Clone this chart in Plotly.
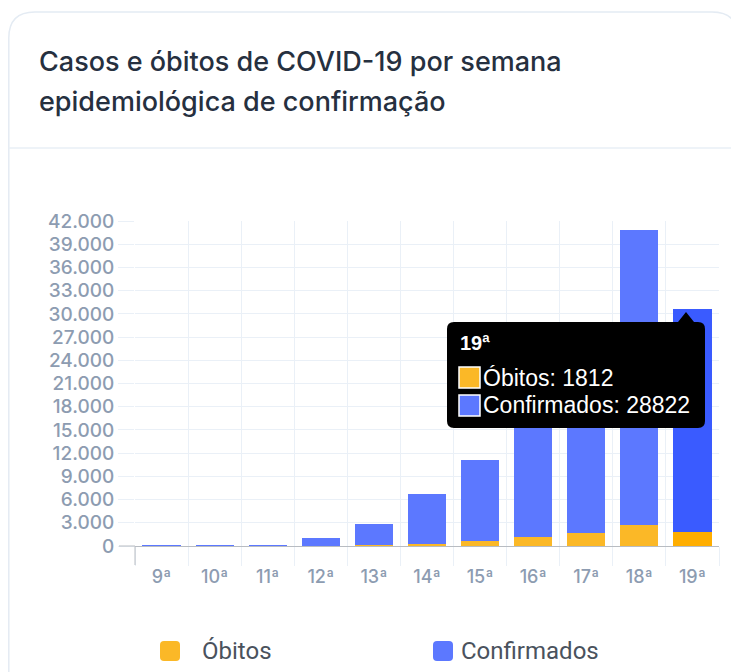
import plotly.graph_objects as go

weeks = ["9ª", "10ª", "11ª", "12ª", "13ª", "14ª", "15ª", "16ª", "17ª", "18ª", "19ª"]
obitos = [0, 0, 0, 18, 96, 296, 692, 1223, 1669, 2734, 1812]
confirmados = [2, 11, 102, 1007, 2776, 6374, 10449, 15872, 21910, 38050, 28822]

OB_C = "#fbb827"
CF_C = "#5c78ff"
OB_HI = "#ffae00"
CF_HI = "#3a5bff"
GRID = "#eaf0f7"
TICK = "#8d9cb1"

# page body has an 8px margin; work in page pixel coordinates
OFF = 8
W, H = 739 - OFF, 672 - OFF
L, R, T, B = 135, 719, 221, 546


def px(x):
    return (x - L) / (R - L)


def py(y):
    return (B - y) / (B - T)


ob_colors = [OB_C] * (len(weeks) - 1) + [OB_HI]
cf_colors = [CF_C] * (len(weeks) - 1) + [CF_HI]

fig = go.Figure()
fig.add_bar(x=weeks, y=obitos, name="Óbitos", marker=dict(color=ob_colors, line=dict(width=0)))
fig.add_bar(x=weeks, y=confirmados, name="Confirmados", marker=dict(color=cf_colors, line=dict(width=0)))

shapes = []
# card outline
cl, ct, cr, rad = 8.8, 12, 738, 26
card = (f"M {px(cl)},{py(700)} L {px(cl)},{py(ct + rad)} Q {px(cl)},{py(ct)} {px(cl + rad)},{py(ct)} "
        f"L {px(cr - rad)},{py(ct)} Q {px(cr)},{py(ct)} {px(cr)},{py(ct + rad)} L {px(cr)},{py(700)}")
shapes.append(dict(type="path", xref="paper", yref="paper", path=card,
                   line=dict(color="#e4ebf3", width=1.5), layer="below"))
shapes.append(dict(type="line", xref="paper", yref="paper", x0=px(cl), x1=px(739), y0=py(148), y1=py(148),
                   line=dict(color="#e9eff6", width=1.5)))

# darker zero tick and left boundary tick
shapes.append(dict(type="line", xref="paper", yref="paper", x0=px(119), x1=px(135), y0=py(546), y1=py(546),
                   line=dict(color="#b8bcc2", width=1)))
shapes.append(dict(type="line", xref="paper", yref="paper", x0=px(135), x1=px(135), y0=py(546), y1=py(565),
                   line=dict(color="#b8bcc2", width=1)))

# tooltip box
x0, x1, y0, y1, r = 447, 705, 322, 428, 7
tip = (f"M {px(x0 + r)},{py(y0)} L {px(678)},{py(y0)} L {px(686)},{py(312)} L {px(694)},{py(y0)} "
       f"L {px(x1 - r)},{py(y0)} Q {px(x1)},{py(y0)} {px(x1)},{py(y0 + r)} "
       f"L {px(x1)},{py(y1 - r)} Q {px(x1)},{py(y1)} {px(x1 - r)},{py(y1)} "
       f"L {px(x0 + r)},{py(y1)} Q {px(x0)},{py(y1)} {px(x0)},{py(y1 - r)} "
       f"L {px(x0)},{py(y0 + r)} Q {px(x0)},{py(y0)} {px(x0 + r)},{py(y0)} Z")
shapes.append(dict(type="path", xref="paper", yref="paper", path=tip,
                   fillcolor="#000000", line=dict(width=0), layer="above"))
for (sy, col) in [(367, OB_C), (395, CF_C)]:
    shapes.append(dict(type="rect", xref="paper", yref="paper", x0=px(459), x1=px(480),
                       y0=py(sy), y1=py(sy + 21), fillcolor=col, line=dict(color="#ffffff", width=1.5),
                       layer="above"))

# legend squares
for (sx, col) in [(160, OB_C), (433, CF_C)]:
    s0, s1 = sx, sx + 20
    t0, t1, rr = 641, 661, 4
    p = (f"M {px(s0 + rr)},{py(t0)} L {px(s1 - rr)},{py(t0)} Q {px(s1)},{py(t0)} {px(s1)},{py(t0 + rr)} "
         f"L {px(s1)},{py(t1 - rr)} Q {px(s1)},{py(t1)} {px(s1 - rr)},{py(t1)} "
         f"L {px(s0 + rr)},{py(t1)} Q {px(s0)},{py(t1)} {px(s0)},{py(t1 - rr)} "
         f"L {px(s0)},{py(t0 + rr)} Q {px(s0)},{py(t0)} {px(s0 + rr)},{py(t0)} Z")
    shapes.append(dict(type="path", xref="paper", yref="paper", path=p, fillcolor=col, line=dict(width=0)))

annotations = []
title_font = dict(family="Inter", size=27, color="#26303f", weight=500)
annotations.append(dict(xref="paper", yref="paper", x=px(37), y=py(61), xanchor="left", yanchor="middle",
                        text="Casos e óbitos de COVID-19 por semana", showarrow=False, font=title_font))
annotations.append(dict(xref="paper", yref="paper", x=px(37), y=py(101), xanchor="left", yanchor="middle",
                        text="epidemiológica de confirmação", showarrow=False, font=title_font))

tt_font = dict(family="Liberation Sans", size=23, color="#ffffff")
annotations.append(dict(xref="paper", yref="paper", x=px(458), y=py(343), xanchor="left", yanchor="middle",
                        text="<b>19ª</b>", showarrow=False, font=dict(family="Liberation Sans", size=20, color="#ffffff")))
annotations.append(dict(xref="paper", yref="paper", x=px(481), y=py(378), xanchor="left", yanchor="middle",
                        text=f"Óbitos: {obitos[-1]}", showarrow=False, font=tt_font))
annotations.append(dict(xref="paper", yref="paper", x=px(481), y=py(405), xanchor="left", yanchor="middle",
                        text=f"Confirmados: {confirmados[-1]}", showarrow=False, font=tt_font))

leg_font = dict(family="Roboto", size=24, color="#4a525d")
annotations.append(dict(xref="paper", yref="paper", x=px(200), y=py(651), xanchor="left", yanchor="middle",
                        text="Óbitos", showarrow=False, font=leg_font))
annotations.append(dict(xref="paper", yref="paper", x=px(459), y=py(651), xanchor="left", yanchor="middle",
                        text="Confirmados", showarrow=False, font=leg_font))

fig.update_layout(
    width=W, height=H,
    margin=dict(l=L - OFF, r=W - (R - OFF), t=T - OFF, b=H - (B - OFF), pad=0),
    paper_bgcolor="#ffffff", plot_bgcolor="#ffffff",
    barmode="stack", bargap=0.28,
    showlegend=False,
    separators=",.",
    shapes=shapes, annotations=annotations,
    hovermode=False,
    xaxis=dict(type="category", tickson="boundaries", showgrid=True, gridcolor=GRID, gridwidth=1,
               ticks="outside", ticklen=19, tickcolor=GRID, showline=True, linecolor="#b8bcc2", linewidth=1,
               ticklabelstandoff=14,
               tickfont=dict(family="Inter", size=18, color=TICK, weight=500), zeroline=False),
    yaxis=dict(range=[0, 42000], dtick=3000, tickformat=",d", showgrid=True, gridcolor=GRID, gridwidth=1,
               ticks="outside", ticklen=16, tickcolor=GRID, zeroline=False, showline=False,
               tickfont=dict(family="Inter", size=19, color=TICK, weight=500)),
)

fig.write_html("out.html")
